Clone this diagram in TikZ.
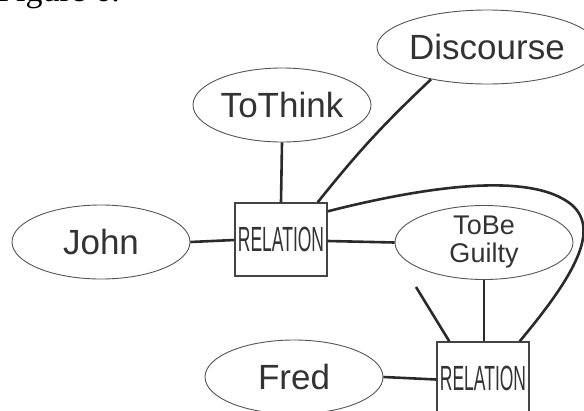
\documentclass[tikz,border=0pt]{standalone}
\usepackage{fontspec}
\setmainfont{Liberation Sans}
\newfontfamily\captionserif{Liberation Serif}
\usetikzlibrary{shapes.geometric}
\definecolor{linkgray}{HTML}{2A2A2A}
\definecolor{ellipsegray}{HTML}{555555}
\definecolor{boxgray}{HTML}{444444}
\definecolor{textgray}{HTML}{333333}
\begin{document}
\begin{tikzpicture}[x=1pt,y=-1pt,
  ent/.style={ellipse, draw=ellipsegray, line width=0.9pt, inner sep=0pt,
    minimum width=178pt, minimum height=74pt,
    font=\fontsize{35}{36}\selectfont, text=textgray},
  smallent/.style={ent, font=\fontsize{27}{30}\selectfont, align=center},
  rel/.style={rectangle, draw=boxgray, line width=1.4pt, inner sep=0pt,
    minimum width=92pt, minimum height=73pt,
    font=\fontsize{35}{36}\selectfont, text=textgray},
  link/.style={draw=linkgray, line width=2.6pt}]
  \useasboundingbox (0,0) rectangle (584,410);
  \clip (0,0) rectangle (584,410);

  % caption line running off the top edge
  \node[anchor=base west, inner sep=0pt, text=black,
        font=\captionserif\fontsize{34}{34}\selectfont] (caption) at (-3,1.5) {Figure 6.};

  % concepts
  \node[ent] (john)   at (101,242) {John};
  \node[ent] (think)  at (282,105) {ToThink};
  \node[ent] (disc)   at (487,47)  {Discourse};
  \node[smallent] (guilty) at (484,242.5) {ToBe\\[-2pt]Guilty};
  \node[ent] (fred)   at (294,377) {Fred};

  % relations
  \node[rel] (rel1) at (281,239.5) {\scalebox{0.5}[1]{RELATION}};
  \node[rel] (rel2) at (483,378.5) {\scalebox{0.5}[1]{RELATION}};

  \coordinate (stub) at (416,287);

  % connectors
  \draw[link] (john.east) -- ([yshift=-0.5pt]rel1.west);
  \draw[link] (think.south) -- (rel1.north);
  \draw[link] (disc.210.8) to[bend right=4] ([xshift=-10pt]rel1.north east);
  \draw[link] ([yshift=-1.5pt]rel1.east) -- (guilty.west);
  \draw[link] ([yshift=-9pt]rel1.north east)
      .. controls (420,188) and (530,170) .. (572,205)
      .. controls (600,230) and (575,275) .. ([xshift=-10pt]rel2.north east);
  \draw[link] (guilty.south) -- (rel2.north -| guilty.south);
  \draw[link] (stub) -- ([xshift=13pt]rel2.north west);
  \draw[link] (fred.east) -- ([yshift=-1pt]rel2.west);
\end{tikzpicture}
\end{document}
